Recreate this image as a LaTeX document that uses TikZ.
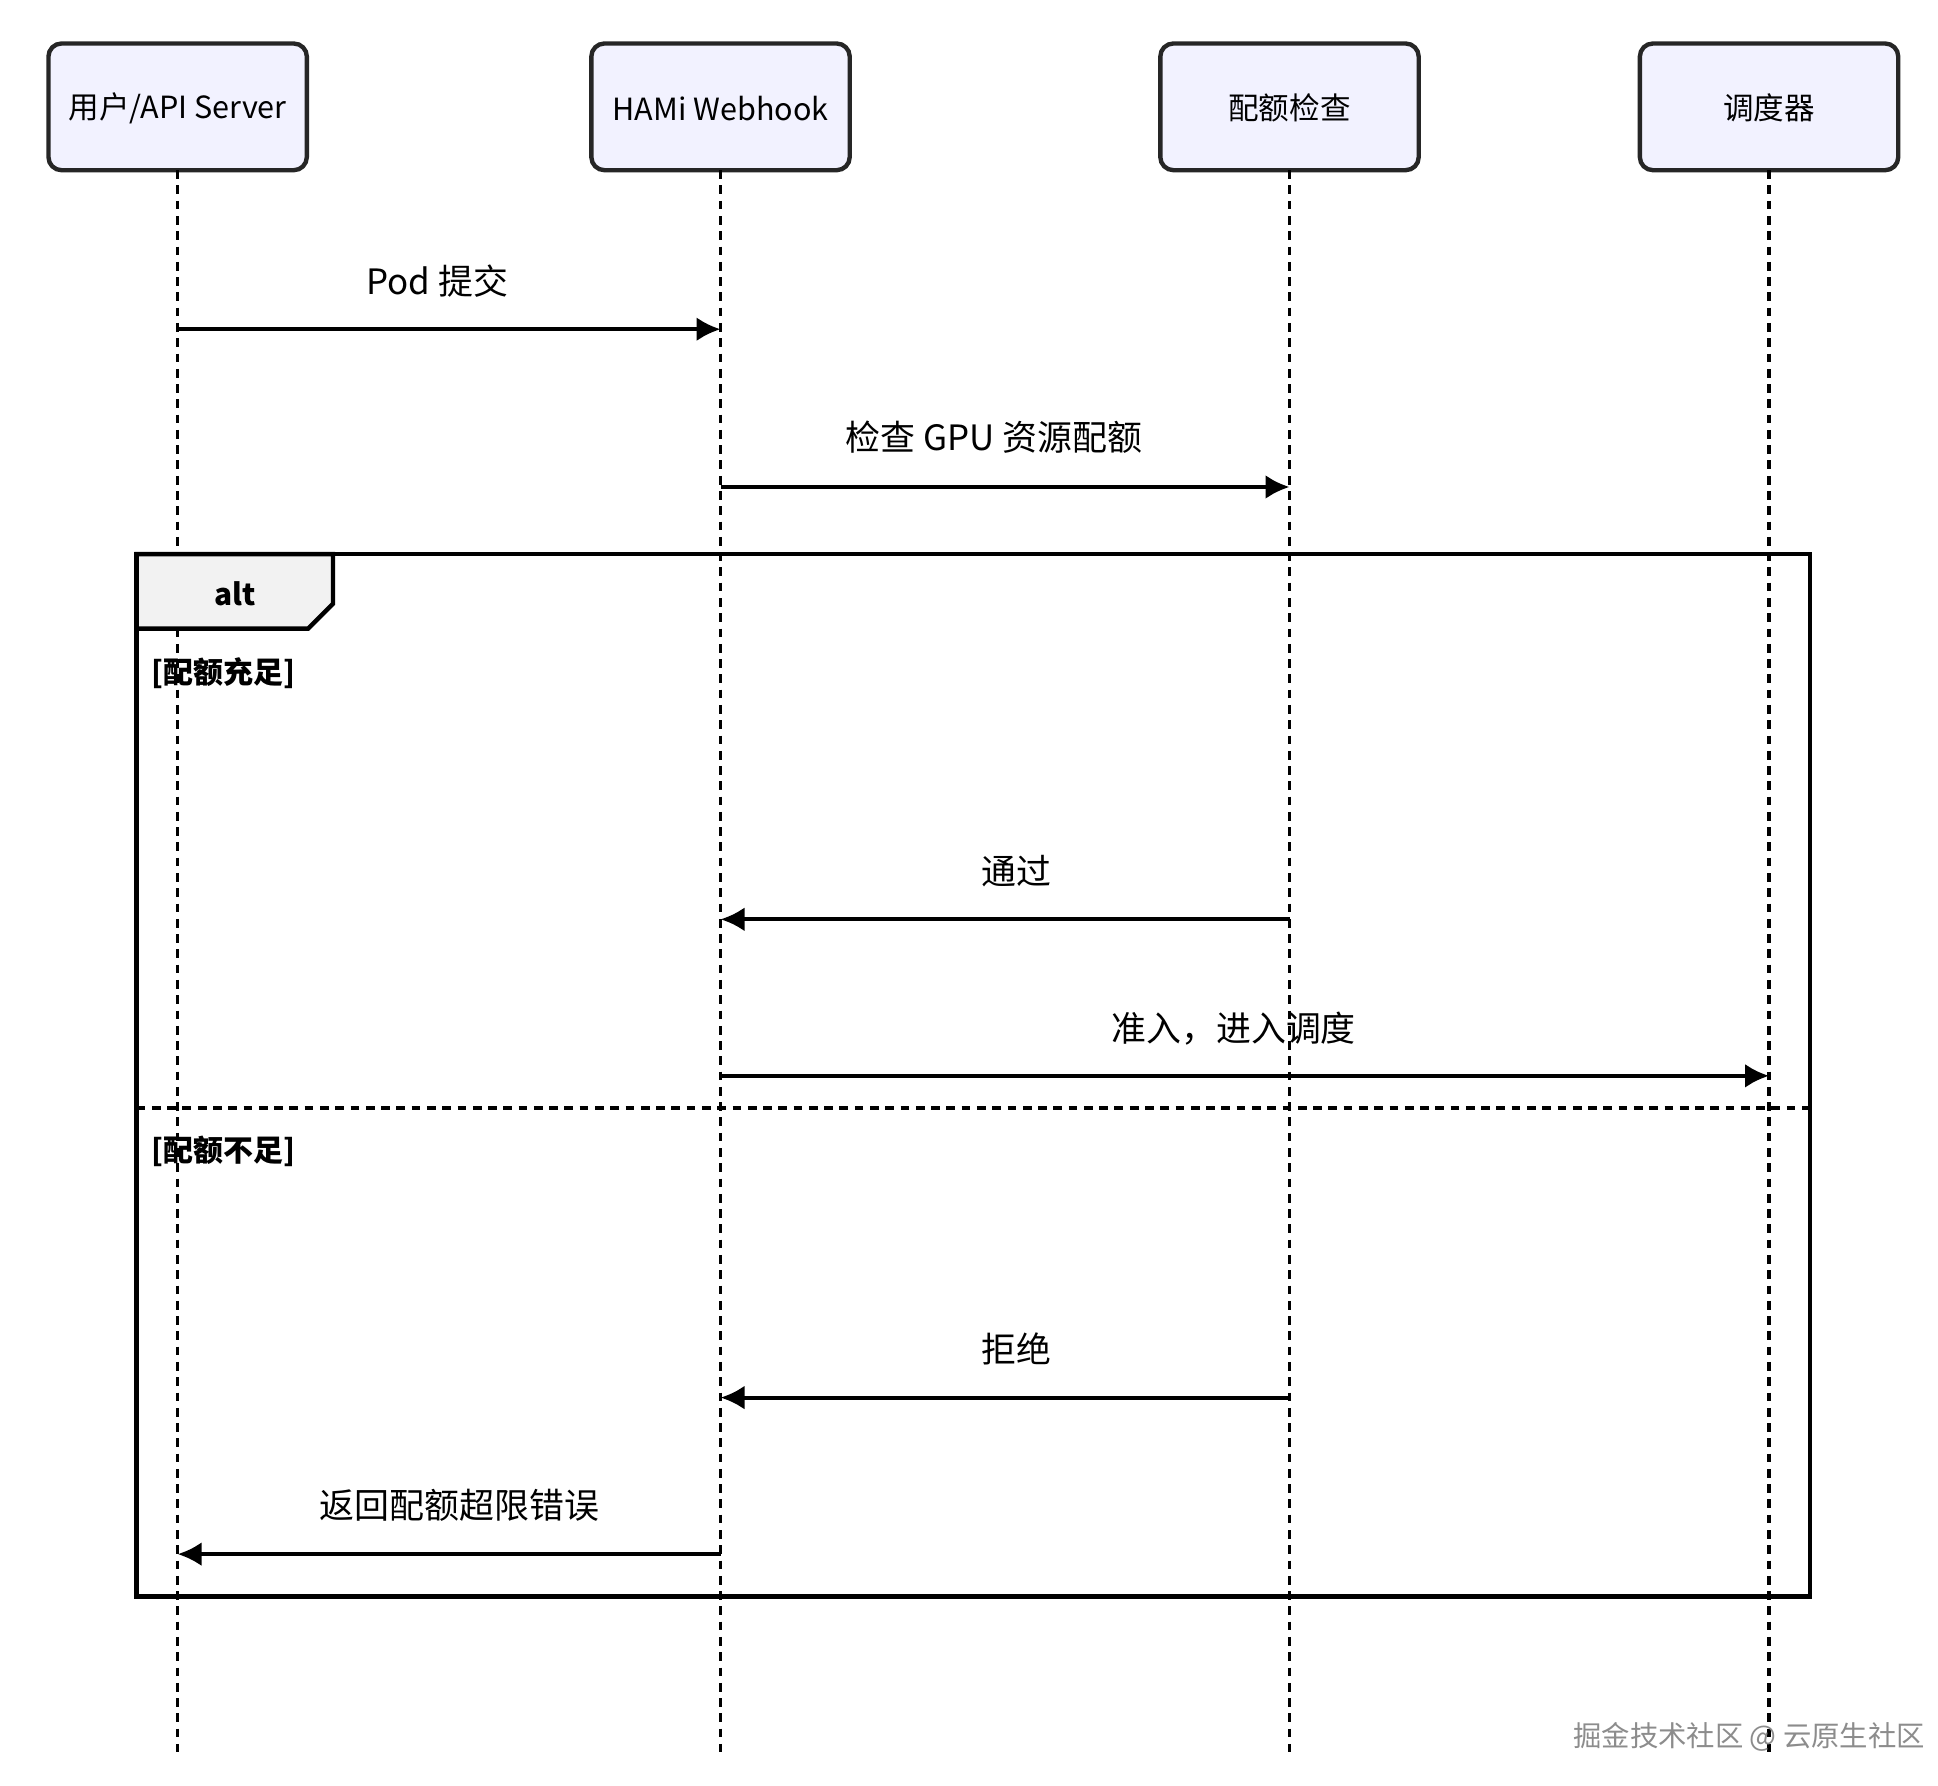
\documentclass[tikz,border=0pt]{standalone}
\usepackage{fontspec}
\setmainfont{Noto Sans CJK SC}
\usetikzlibrary{arrows.meta}
\begin{document}
\begin{tikzpicture}[x=0.02cm,y=-0.02cm,
  life/.style={line width=1.6pt,dash pattern=on 4pt off 3pt},
  msg/.style={line width=1.8pt,-{Latex[length=11pt,width=11pt]}},
  lab/.style={font=\fontsize{16}{18}\selectfont},
  grd/.style={font=\bfseries\fontsize{13.7}{16}\selectfont}]
\useasboundingbox (0,0) rectangle (1560,1437);
% actors
\foreach \n/\x/\t in {a/143/{用户/API Server},b/580/{HAMi Webhook},c/1038/{配额检查},d/1424/{调度器}}{
  \draw[line width=2pt,rounded corners=6pt,fill=blue!5!white,draw=black!85] (\x-104,35) rectangle (\x+104,137);
  \node[font=\fontsize{14}{16}\selectfont] (\n) at (\x,87) {\t};
  \coordinate (\n top) at (\x,137);
  \coordinate (\n bot) at (\x,1410);
  \draw[life] (\n top) -- (\n bot);
}
% alt frame
\draw[line width=2pt] (110,446) rectangle (1457,1285);
\draw[line width=2pt,fill=black!5] (110,446) -- (268,446) -- (268,486) -- (248,506) -- (110,506) -- cycle;
\node[grd] (alt) at (189,478) {alt};
\node[grd] (g1) at (180,542) {[配额充足]};
\node[grd] (g2) at (180,927) {[配额不足]};
\draw[life] (110,892) -- (1457,892);
% messages
\coordinate (m1a) at (143,265); \coordinate (m1b) at (580,265);
\draw[msg] (m1a) -- (m1b); \node[lab] (l1) at (352,226) {Pod 提交};
\coordinate (m2a) at (580,392); \coordinate (m2b) at (1038,392);
\draw[msg] (m2a) -- (m2b); \node[lab] (l2) at (800,352) {检查 GPU 资源配额};
\coordinate (m3a) at (1038,740); \coordinate (m3b) at (580,740);
\draw[msg] (m3a) -- (m3b); \node[lab] (l3) at (818,701) {通过};
\coordinate (m4a) at (580,866); \coordinate (m4b) at (1424,866);
\draw[msg] (m4a) -- (m4b); \node[lab] (l4) at (993,828) {准入，进入调度};
\coordinate (m5a) at (1038,1125); \coordinate (m5b) at (580,1125);
\draw[msg] (m5a) -- (m5b); \node[lab] (l5) at (818,1086) {拒绝};
\coordinate (m6a) at (580,1251); \coordinate (m6b) at (143,1251);
\draw[msg] (m6a) -- (m6b); \node[lab] (l6) at (370,1212) {返回配额超限错误};
\node[font=\fontsize{13}{15}\selectfont,text=black!45] (wm) at (1408,1398) {掘金技术社区 @ 云原生社区};
\end{tikzpicture}
\end{document}
